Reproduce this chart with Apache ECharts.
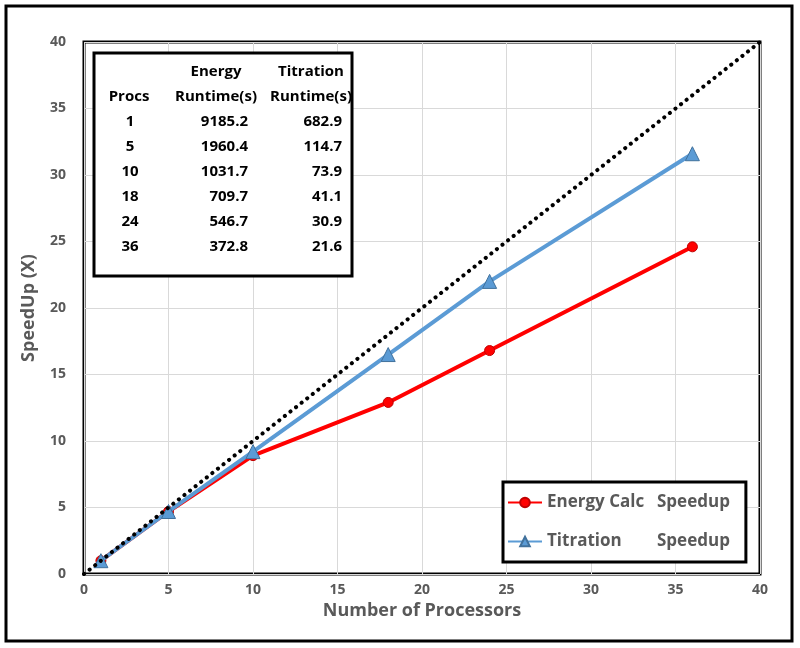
<!DOCTYPE html>
<html>
<head>
<meta charset="utf-8">
<script src="https://cdn.jsdelivr.net/npm/echarts@6/dist/echarts.min.js"></script>
<style>
	html, body { margin: 0; padding: 0; background: #fff; }
	#main { width: 800px; height: 648px; }
</style>
</head>
<body>
<div id="main"></div>
<script>
var procs = [1, 5, 10, 18, 24, 36];
var energyRuntime = ['9185.2', '1960.4', '1031.7', '709.7', '546.7', '372.8'];
var titrationRuntime = ['682.9', '114.7', '73.9', '41.1', '30.9', '21.6'];
var energySpeedup = [1.0, 4.7, 8.9, 12.9, 16.8, 24.6];
var titrationSpeedup = [1.0, 4.7, 9.2, 16.5, 22.0, 31.6];
var idealX = [0, 40];

var font = '"Open Sans", "Liberation Sans", sans-serif';
var grey = '#595959';

function pairs(xs, ys) {
	var out = [];
	for (var i = 0; i < xs.length; i++) {
		out.push([xs[i], ys[i]]);
	}
	return out;
}

// table in the upper left corner
var tableFont = 'bold 15px ' + font;
function cell(text, x, y, align) {
	return {
		type: 'text',
		x: x,
		y: y,
		z: 101,
		style: {
			text: text,
			fill: '#000',
			font: tableFont,
			align: align || 'center',
			verticalAlign: 'middle'
		}
	};
}
var tableItems = [{
	type: 'rect',
	z: 100,
	shape: { x: 94, y: 53, width: 258, height: 223 },
	style: { fill: '#fff', stroke: '#000', lineWidth: 3 }
}];
tableItems.push(cell('Energy', 216, 72));
tableItems.push(cell('Titration', 311, 72));
tableItems.push(cell('Procs', 129, 97));
tableItems.push(cell('Runtime(s)', 216, 97));
tableItems.push(cell('Runtime(s)', 311, 97));
for (var r = 0; r < procs.length; r++) {
	var y = 122 + r * 25;
	tableItems.push(cell(String(procs[r]), 130, y));
	tableItems.push(cell(energyRuntime[r], 248, y, 'right'));
	tableItems.push(cell(titrationRuntime[r], 342, y, 'right'));
}

var myChart = echarts.init(document.getElementById('main'));
var option = {
	backgroundColor: '#fff',
	animation: false,
	grid: {
		left: 84,
		right: 40,
		top: 42,
		bottom: 74,
		show: true,
		borderColor: '#000',
		borderWidth: 3
	},
	legend: {
		orient: 'vertical',
		left: 503,
		top: 482,
		width: 244,
		padding: [12, 16, 12, 4],
		itemGap: 22,
		itemWidth: 34,
		itemHeight: 12,
		borderColor: '#000',
		borderWidth: 3,
		backgroundColor: '#fff',
		data: ['Energy Calc Speedup', 'Titration Speedup'],
		formatter: function(name) {
			var k = name.lastIndexOf(' ');
			return '{l|' + name.slice(0, k) + '}{r|' + name.slice(k + 1) + '}';
		},
		textStyle: {
			fontFamily: font,
			fontWeight: 'bold',
			fontSize: 17,
			color: grey,
			rich: {
				l: { width: 110, fontFamily: font, fontWeight: 'bold', fontSize: 17, color: grey },
				r: { fontFamily: font, fontWeight: 'bold', fontSize: 17, color: grey }
			}
		}
	},
	xAxis: {
		type: 'value',
		min: 0,
		max: 40,
		interval: 5,
		name: 'Number of Processors',
		nameLocation: 'middle',
		nameGap: 28,
		nameTextStyle: { fontFamily: font, fontWeight: 'bold', fontSize: 18, color: grey },
		axisLine: { show: false },
		axisTick: { show: false },
		axisLabel: { margin: 9, fontFamily: font, fontWeight: 'bold', fontSize: 14, color: grey },
		splitLine: { lineStyle: { color: '#d9d9d9', width: 1 } }
	},
	yAxis: {
		type: 'value',
		min: 0,
		max: 40,
		interval: 5,
		name: 'SpeedUp (X)',
		nameLocation: 'middle',
		nameGap: 46,
		nameTextStyle: { fontFamily: font, fontWeight: 'bold', fontSize: 18, color: grey },
		axisLine: { show: false },
		axisTick: { show: false },
		axisLabel: { margin: 18, fontFamily: font, fontWeight: 'bold', fontSize: 14, color: grey },
		splitLine: { lineStyle: { color: '#d9d9d9', width: 1 } }
	},
	series: [{
		name: 'Energy Calc Speedup',
		type: 'line',
		data: pairs(procs, energySpeedup),
		symbol: 'circle',
		symbolSize: 10,
		lineStyle: { color: '#ff0000', width: 4 },
		itemStyle: { color: '#ff0000', borderColor: '#c00000', borderWidth: 1 },
		z: 3
	}, {
		name: 'Titration Speedup',
		type: 'line',
		data: pairs(procs, titrationSpeedup),
		symbol: 'triangle',
		symbolSize: 14,
		lineStyle: { color: '#5b9bd5', width: 4 },
		itemStyle: { color: '#5b9bd5', borderColor: '#41719c', borderWidth: 1 },
		z: 4
	}, {
		name: 'Ideal',
		type: 'line',
		data: pairs(idealX, idealX),
		symbol: 'none',
		lineStyle: { color: '#000', width: 4, type: [0.1, 7], cap: 'round' },
		z: 5
	}],
	graphic: [{
		type: 'rect',
		z: 90,
		shape: { x: 6, y: 6, width: 786, height: 635 },
		style: { fill: 'none', stroke: '#000', lineWidth: 3 },
		silent: true
	}].concat(tableItems)
};
myChart.setOption(option);
</script>
</body>
</html>
